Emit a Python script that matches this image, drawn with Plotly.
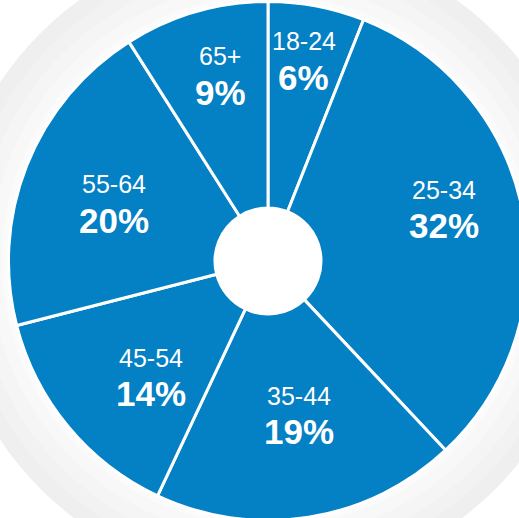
import math
import plotly.graph_objects as go

age_groups = ["18-24", "25-34", "35-44", "45-54", "55-64", "65+"]
shares = [6, 32, 19, 14, 20, 9]

# label placement (style): radial distance in px and angular nudge in degrees
label_radius = [205, 184, 156, 164, 165, 193]
label_nudge = [-0.7, -6.1, -2.5, -4.8, -0.7, 1.8]

W, H = 540, 530
CX, CY, R = 268.0, 261.0, 259.5
HOLE_R = 53.0
BLUE = "#0480c4"
FONT = "Liberation Sans, Arial, sans-serif"

fig = go.Figure()
fig.add_trace(go.Pie(
    labels=age_groups,
    values=shares,
    sort=False,
    direction="clockwise",
    rotation=0,
    hole=HOLE_R / R,
    marker=dict(colors=[BLUE] * len(shares), line=dict(color="white", width=3)),
    textinfo="none",
    showlegend=False,
    hoverinfo="label+percent",
    domain=dict(x=[(CX - R) / W, (CX + R) / W], y=[1 - (CY + R) / H, 1 - (CY - R) / H]),
))

# soft grey halo behind the pie, white centre
rings = [(322, "#efefef"), (306, "#f2f2f2"), (292, "#f5f5f5"), (278, "#f8f8f8"),
         (266, "#fbfbfb"), (HOLE_R + 2, "#ffffff")]
for rr, col in rings:
    fig.add_shape(type="circle", xref="paper", yref="paper",
                  x0=(CX - rr) / W, x1=(CX + rr) / W,
                  y0=1 - (CY + rr) / H, y1=1 - (CY - rr) / H,
                  fillcolor=col, line=dict(width=0), layer="below")

total = sum(shares)
start = 0.0
for lab, val, rad, nudge in zip(age_groups, shares, label_radius, label_nudge):
    span = val / total * 360.0
    ang = math.radians(start + span / 2 + nudge)
    start += span
    px = CX + rad * math.sin(ang)
    py = CY - rad * math.cos(ang)
    fig.add_annotation(x=px / W, y=1 - (py - 18) / H, xref="paper", yref="paper",
                       text=lab, showarrow=False, xanchor="center", yanchor="middle",
                       font=dict(family=FONT, size=25, color="white"))
    fig.add_annotation(x=px / W, y=1 - (py + 18) / H, xref="paper", yref="paper",
                       text=f"<b>{round(val / total * 100)}%</b>", showarrow=False,
                       xanchor="center", yanchor="middle",
                       font=dict(family=FONT, size=35, color="white"))

fig.update_layout(width=W, height=H, margin=dict(l=0, r=0, t=0, b=0),
                  paper_bgcolor="white", plot_bgcolor="white")
fig.write_html(
    "out.html",
    config={"displayModeBar": False},
    post_script="document.body.style.margin='0';document.body.style.overflow='hidden';"
                "document.documentElement.style.overflow='hidden';",
)
